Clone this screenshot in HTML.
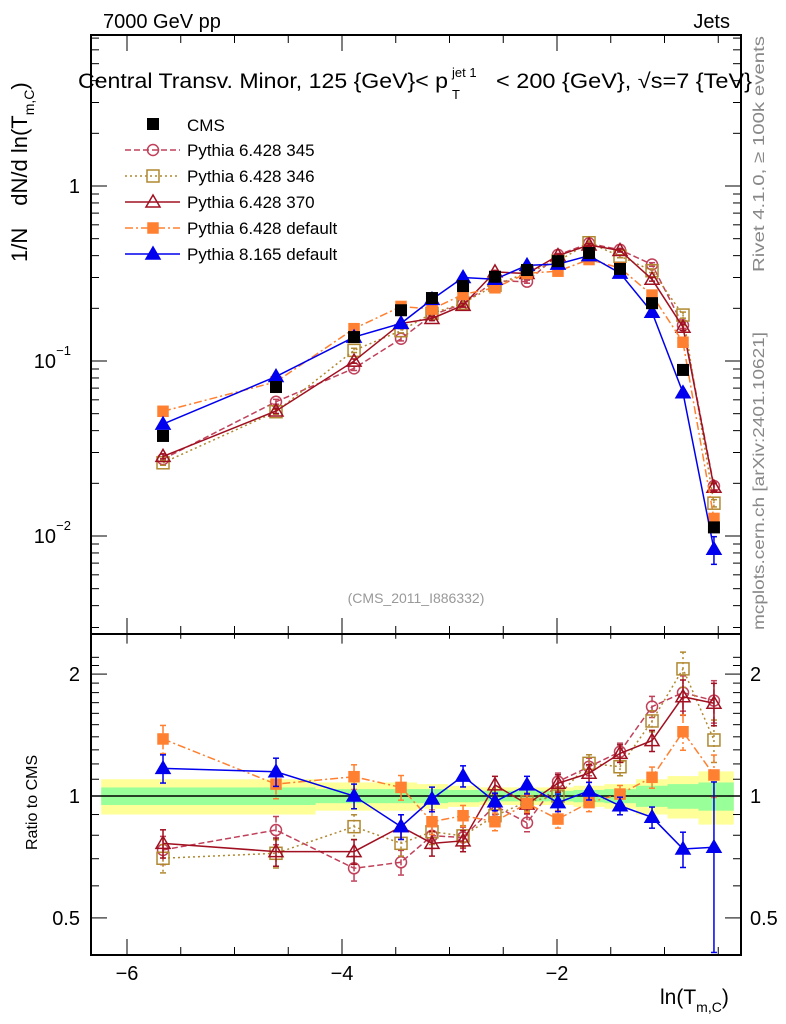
<!DOCTYPE html>
<html><head><meta charset="utf-8"><style>
body{margin:0;background:#fff;}
svg{display:block;font-family:"Liberation Sans",sans-serif;}
</style></head><body>
<svg id="c" width="786" height="1024" xmlns="http://www.w3.org/2000/svg"></svg>
<script>
const xs=[-5.665,-4.614,-3.888,-3.451,-3.163,-2.874,-2.577,-2.279,-1.991,-1.702,-1.414,-1.116,-0.828,-0.540];
const cms=[0.0373,0.071,0.137,0.195,0.229,0.268,0.303,0.331,0.372,0.414,0.336,0.214,0.0889,0.0112];
const p345=[0.0275,0.0585,0.0908,0.134,0.183,0.212,0.287,0.284,0.404,0.470,0.432,0.356,0.160,0.0193];
const p346=[0.0262,0.0513,0.115,0.149,0.187,0.214,0.271,0.320,0.372,0.474,0.397,0.328,0.183,0.0154];
const p370=[0.0285,0.0518,0.0999,0.164,0.175,0.208,0.323,0.316,0.400,0.460,0.428,0.293,0.156,0.019];
const pdef=[0.0516,0.076,0.153,0.205,0.198,0.240,0.262,0.317,0.326,0.380,0.340,0.238,0.128,0.0126];
const p8=[0.0436,0.0815,0.137,0.164,0.225,0.300,0.293,0.352,0.358,0.400,0.318,0.190,0.0658,0.0084];
const r345=[0.736,0.824,0.663,0.686,0.798,0.79,0.946,0.859,1.085,1.181,1.286,1.662,1.80,1.72];
const r346=[0.702,0.722,0.84,0.764,0.816,0.797,0.894,0.968,1.0,1.204,1.181,1.532,2.06,1.375];
const r370=[0.764,0.729,0.729,0.84,0.764,0.775,1.065,0.955,1.075,1.138,1.274,1.37,1.758,1.694];
const rdef=[1.383,1.07,1.116,1.05,0.864,0.894,0.864,0.959,0.877,0.963,1.011,1.112,1.441,1.127];
const r8=[1.17,1.148,1.0,0.84,0.983,1.12,0.968,1.065,0.963,1.029,0.946,0.886,0.74,0.747];
const relErr=[0.08,0.08,0.07,0.07,0.07,0.06,0.05,0.05,0.05,0.05,0.05,0.06,0.1,0.12];
const r8Err=[0.08,0.08,0.07,0.07,0.07,0.06,0.05,0.05,0.05,0.05,0.05,0.06,0.1,0.45];
const bandYellow=[0.1,0.1,0.08,0.08,0.07,0.06,0.05,0.05,0.05,0.06,0.07,0.1,0.12,0.15];
const bandGreen=[0.05,0.05,0.04,0.04,0.04,0.035,0.03,0.03,0.03,0.035,0.04,0.06,0.07,0.08];
const xTicks=[-6,-4,-2];

const NS="http://www.w3.org/2000/svg";
const svg=document.getElementById('c');
const L=91,R=741,T=35,M=634,B=955;
const X=v=>772+107.5*v;
const Y=v=>186-175*Math.log10(v);
const YR=v=>796-405*Math.log10(v);
function el(t,a,p){const e=document.createElementNS(NS,t);for(const k in a)e.setAttribute(k,a[k]);(p||svg).appendChild(e);return e;}
function txt(s,a,p){const e=el('text',a,p);e.textContent=s;return e;}

const edges=[-6.24];
for(let i=0;i<xs.length-1;i++)edges.push((xs[i]+xs[i+1])/2);
edges.push(-0.36);
const gb=el('g',{});


for(let i=0;i<xs.length;i++){
  el('rect',{x:X(edges[i]),y:YR(1+bandYellow[i]),width:X(edges[i+1])-X(edges[i])+0.5,height:YR(1-bandYellow[i])-YR(1+bandYellow[i]),fill:'#ffff99'},gb);
}
for(let i=0;i<xs.length;i++){
  el('rect',{x:X(edges[i]),y:YR(1+bandGreen[i]),width:X(edges[i+1])-X(edges[i])+0.5,height:YR(1-bandGreen[i])-YR(1+bandGreen[i]),fill:'#99ff99'},gb);
}
el('line',{x1:L,x2:R,y1:YR(1),y2:YR(1),stroke:'#000','stroke-width':1.5});

const fr=el('g',{fill:'none',stroke:'#000','stroke-width':2});


el('rect',{x:L,y:T,width:R-L,height:M-T},fr);
el('rect',{x:L,y:M,width:R-L,height:B-M},fr);

const tk=el('g',{stroke:'#000','stroke-width':1});
for(let v=-6.5;v<=-0.2;v+=0.5){
  const px=X(v);if(px<L||px>R)continue;
  const major=Math.abs(v-Math.round(v))<1e-6&&Math.round(v)%2===0;
  const len=major?16:8;
  el('line',{x1:px,x2:px,y1:T,y2:T+len},tk);
  el('line',{x1:px,x2:px,y1:M,y2:M-len},tk);
  el('line',{x1:px,x2:px,y1:M,y2:M+len*0.6},tk);
  el('line',{x1:px,x2:px,y1:B,y2:B-len},tk);
}
xTicks.forEach(v=>{const t=txt('\u2212'+Math.abs(v),{x:X(v),y:980,'font-size':20,'text-anchor':'middle'});

});
for(let d=-3;d<=0;d++){
  for(let m=1;m<10;m++){
    const v=m*Math.pow(10,d);const py=Y(v);
    if(py<T||py>M)continue;
    const len=m===1?16:8;
    el('line',{x1:L,x2:L+len,y1:py,y2:py},tk);
    el('line',{x1:R,x2:R-len,y1:py,y2:py},tk);
  }
}
txt('1',{x:80,y:193,'font-size':20,'text-anchor':'end'});
txt('10',{x:56,y:368,'font-size':20,'text-anchor':'end'});txt('\u22121',{x:71,y:355,'font-size':13,'text-anchor':'end'});
txt('10',{x:56,y:543,'font-size':20,'text-anchor':'end'});txt('\u22122',{x:71,y:530,'font-size':13,'text-anchor':'end'});
[0.5,0.6,0.7,0.8,0.9,1,1.1,1.2,1.3,1.4,1.5,1.6,1.7,1.8,1.9,2,2.1,2.2].forEach(v=>{
  const py=YR(v);if(py<M||py>B)return;
  const major=(v===0.5||v===1||v===2);const len=major?16:8;
  el('line',{x1:L,x2:L+len,y1:py,y2:py},tk);
  el('line',{x1:R,x2:R-len,y1:py,y2:py},tk);
});
[['0.5',0.5],['1',1],['2',2]].forEach(([s,v])=>{
  txt(s,{x:80,y:YR(v)+7,'font-size':20,'text-anchor':'end'});
  txt(s,{x:750,y:YR(v)+7,'font-size':20});
});

const series=[
 {n:'pythia-6428-345',main:p345,rat:r345,col:'#c0405a',dash:'6,3',mk:'circle',fill:'none',err:relErr},
 {n:'pythia-6428-346',main:p346,rat:r346,col:'#b08830',dash:'2,3',mk:'square',fill:'none',err:relErr},
 {n:'pythia-6428-370',main:p370,rat:r370,col:'#a01020',dash:'',mk:'tri',fill:'none',err:relErr},
 {n:'pythia-6428-default',main:pdef,rat:rdef,col:'#ff8030',dash:'8,3,2,3',mk:'square',fill:'#ff8030',err:relErr,small:true},
 {n:'pythia-8165-default',main:p8,rat:r8,col:'#0000ee',dash:'',mk:'tri',fill:'#0000ee',err:r8Err}
];
function marker(g,mk,x,y,col,fill,small){
  if(mk==='circle')el('circle',{cx:x,cy:y,r:5.5,fill:'none',stroke:col,'stroke-width':1.5},g);
  else if(mk==='square'){const s=small?5:6;el('rect',{x:x-s,y:y-s,width:2*s,height:2*s,fill:fill,stroke:col,'stroke-width':1.5},g);}
  else el('polygon',{points:`${x},${y-7} ${x-7},${y+5} ${x+7},${y+5}`,fill:fill,stroke:col,'stroke-width':1.5},g);
}
function drawSeries(s,vals,ymap,errs,nm){
  const g=el('g',{});
  
  
  const pts=vals.map((v,i)=>X(xs[i])+','+ymap(v)).join(' ');
  el('polyline',{points:pts,fill:'none',stroke:s.col,'stroke-width':1.5,'stroke-dasharray':s.dash},g);
  vals.forEach((v,i)=>{
    const x=X(xs[i]);const e=errs[i];
    const y1=ymap(v*(1+e)),y2=ymap(Math.max(v*(1-e),1e-4));
    el('line',{x1:x,x2:x,y1:y1,y2:y2,stroke:s.col,'stroke-width':1.5,'stroke-dasharray':s.dash},g);
    el('line',{x1:x-3,x2:x+3,y1:y1,y2:y1,stroke:s.col,'stroke-width':1.5},g);
    el('line',{x1:x-3,x2:x+3,y1:y2,y2:y2,stroke:s.col,'stroke-width':1.5},g);
    marker(g,s.mk,x,ymap(v),s.col,s.fill,s.small);
  });
}
series.forEach(s=>{
  drawSeries(s,s.main,Y,s.err.map(e=>e*0.4),s.n+'-main');
  drawSeries(s,s.rat,YR,s.err,s.n+'-ratio');
});
const gc=el('g',{});


cms.forEach((v,i)=>{el('rect',{x:X(xs[i])-6,y:Y(v)-6,width:12,height:12,fill:'#000'},gc);});

const lg=el('g',{});


el('rect',{x:147,y:118,width:12,height:12,fill:'#000'},lg);
txt('CMS',{x:187,y:131,'font-size':17},lg);
const labels=['Pythia 6.428 345','Pythia 6.428 346','Pythia 6.428 370','Pythia 6.428 default','Pythia 8.165 default'];
series.forEach((s,i)=>{
  const y=150+26*i;
  el('line',{x1:125,x2:180,y1:y,y2:y,stroke:s.col,'stroke-width':1.5,'stroke-dasharray':s.dash},lg);
  marker(lg,s.mk,153,y,s.col,s.fill,s.small);
  const t=txt(labels[i],{x:187,y:y+6,'font-size':17},lg);
  
  
});
</script>
<svg width="786" height="1024" style="position:absolute;left:0;top:0" xmlns="http://www.w3.org/2000/svg" font-family="Liberation Sans, sans-serif">
<text x="103" y="28" font-size="20">7000 GeV pp</text>
<text x="730" y="28" font-size="20" text-anchor="end">Jets</text>
<g font-size="21">
<text x="78" y="88" textLength="370" lengthAdjust="spacingAndGlyphs">Central Transv. Minor, 125 {GeV}&lt; p</text>
<text x="452" y="77" font-size="13">jet 1</text>
<text x="452" y="99" font-size="13">T</text>
<text x="496" y="88" textLength="256" lengthAdjust="spacingAndGlyphs">&lt; 200 {GeV}, √s=7 {TeV}</text>
</g>
<text transform="translate(764,272) rotate(-90)" font-size="16" fill="#888" textLength="236" lengthAdjust="spacingAndGlyphs">Rivet 4.1.0, ≥ 100k events</text>
<text transform="translate(764,630) rotate(-90)" font-size="16" fill="#888" textLength="298" lengthAdjust="spacingAndGlyphs">mcplots.cern.ch [arXiv:2401.10621]</text>
<text x="416" y="603" font-size="14" fill="#999" text-anchor="middle">(CMS_2011_I886332)</text>
<text transform="translate(27,262) rotate(-90)" font-size="22">1/N<tspan dx="22">dN/d ln(T</tspan><tspan font-size="14" dy="7">m,C</tspan><tspan dy="-7">)</tspan></text>
<text transform="translate(37,850) rotate(-90)" font-size="16">Ratio to CMS</text>
<text x="660" y="1004" font-size="21">ln(T<tspan font-size="14" dy="8">m,C</tspan><tspan dy="-8">)</tspan></text>
</svg>
</body></html>
